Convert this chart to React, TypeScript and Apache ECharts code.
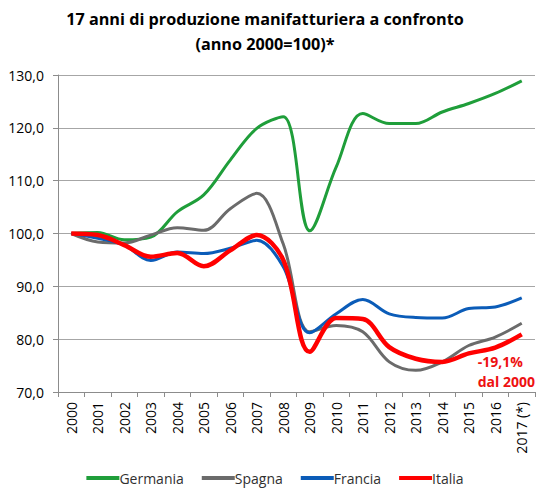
import React, { useEffect, useRef } from "react";
import * as echarts from "echarts";

const years = ["2000","2001","2002","2003","2004","2005","2006","2007","2008","2009","2010","2011","2012","2013","2014","2015","2016","2017 (*)"];
const germania = [100, 100.2, 98.8, 99.3, 104.1, 107.3, 113.9, 119.9, 122.1, 100.5, 112.6, 122.7, 120.8, 120.8, 123.0, 124.6, 126.5, 128.9];
const spagna = [100, 98.4, 98.2, 99.7, 101.1, 100.6, 104.7, 107.6, 98.0, 81.4, 82.6, 81.4, 75.7, 74.1, 75.7, 78.8, 80.4, 83.0];
const francia = [100, 99.1, 97.8, 94.9, 96.5, 96.2, 97.2, 98.7, 93.7, 81.2, 84.8, 87.5, 84.8, 84.1, 84.0, 85.8, 86.1, 87.8];
const italia = [100, 99.7, 97.8, 95.6, 96.3, 93.8, 96.8, 99.7, 95.0, 77.6, 84.0, 83.8, 78.5, 76.3, 75.7, 77.3, 78.4, 80.9];
const yTicks = { min: 70, max: 130, interval: 10 };

const FONT = "'Open Sans', sans-serif";

export default function App() {
  const ref = useRef<HTMLDivElement>(null);
  useEffect(() => {
    document.body.style.margin = "0";
    if (!ref.current) return;
    const chart = echarts.init(ref.current, null, { renderer: "svg" });
    const mk = (name: string, data: number[], color: string, width: number, z: number) => ({
      name,
      type: "line",
      data,
      smooth: 0.35,
      symbol: "none",
      z,
      lineStyle: { color, width },
      itemStyle: { color },
    });
    chart.setOption({
      animation: false,
      textStyle: { fontFamily: FONT },
      title: {
        text: "17 anni di produzione manifatturiera a confronto\n(anno 2000=100)*",
        left: 260,
        textAlign: "center",
        top: 1,
        textStyle: { fontFamily: FONT, fontSize: 16.2, fontWeight: "bold", color: "#000", lineHeight: 25 },
      },
      legend: {
        top: 466,
        left: "center",
        itemWidth: 33,
        itemHeight: 4,
        itemGap: 18,
        icon: "rect",
        textStyle: { fontFamily: FONT, fontSize: 14, color: "#303030", padding: [0, 0, 0, -5] },
        data: ["Germania", "Spagna", "Francia", "Italia"],
      },
      grid: { left: 58, right: 15, top: 75, bottom: 106, containLabel: false },
      xAxis: {
        type: "category",
        data: years,
        boundaryGap: true,
        axisLine: { lineStyle: { color: "#8c8c8c", width: 1 } },
        axisTick: { show: true, length: 5, lineStyle: { color: "#8c8c8c" } },
        axisLabel: { rotate: 90, fontFamily: FONT, fontSize: 14, color: "#000", margin: 10 },
      },
      yAxis: {
        type: "value",
        min: yTicks.min,
        max: yTicks.max,
        interval: yTicks.interval,
        axisLine: { show: true, lineStyle: { color: "#8c8c8c", width: 1 } },
        axisTick: { show: true, length: 5, lineStyle: { color: "#8c8c8c" } },
        splitLine: { lineStyle: { color: "#a6a6a6", width: 1 } },
        axisLabel: {
          fontFamily: FONT,
          fontSize: 14,
          color: "#000",
          margin: 14,
          formatter: (v: number) => v.toFixed(1).replace(".", ","),
        },
      },
      series: [
        mk("Germania", germania, "#1f9e3a", 3, 2),
        mk("Spagna", spagna, "#6b6b6b", 3, 3),
        mk("Francia", francia, "#0b5cb8", 3, 4),
        mk("Italia", italia, "#ff0000", 4.5, 5),
      ],
      graphic: [
        {
          type: "text",
          right: 15,
          top: 351,
          style: {
            text: "-19,1%\ndal 2000",
            fill: "#ee1111",
            font: `bold 14px ${FONT}`,
            align: "right",
            lineHeight: 20,
          },
        },
      ],
    });
    return () => chart.dispose();
  }, []);
  return <div ref={ref} style={{ width: 550, height: 498 }} />;
}
